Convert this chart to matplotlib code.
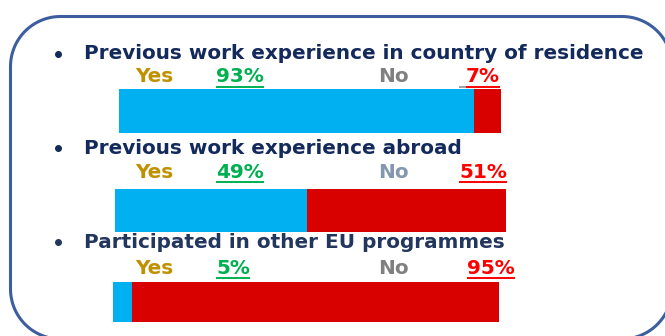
import matplotlib
matplotlib.use("Agg")
import matplotlib.pyplot as plt
import numpy as np

# survey answers, share of respondents (%)
questions = [
    "Previous work experience in country of residence",
    "Previous work experience abroad",
    "Participated in other EU programmes",
]
yes_pct = [93, 49, 5]
no_pct = [7, 51, 95]

BLUE, RED = "#00B0F0", "#D90000"
NAVY = ["#142A5C", "#142A5C", "#22365E"]
GOLD, GREEN, PCT_RED = "#BF9000", "#00B050", "#FF0000"
NO_GREY = ["#808080", "#8497B0", "#808080"]
BORDER = "#3C5E9E"

W, H = 665, 336
fig = plt.figure(figsize=(W / 100, H / 100), dpi=100)
ax = fig.add_axes([0, 0, 1, 1])
ax.set_xlim(0, W)
ax.set_ylim(H, 0)
ax.axis("off")


def rounded_frame(x0, y0, x1, y1, rad):
    # circular-arc corners, y grows downwards here
    pts = []
    for cx, cy, a0 in [(x1 - rad, y0 + rad, -90), (x1 - rad, y1 - rad, 0),
                       (x0 + rad, y1 - rad, 90), (x0 + rad, y0 + rad, 180)]:
        a = np.radians(np.linspace(a0, a0 + 90, 30))
        pts += list(zip(cx + rad * np.cos(a), cy + rad * np.sin(a)))
    pts.append(pts[0])
    xs, ys = zip(*pts)
    ax.plot(xs, ys, color=BORDER, lw=2.2)


rounded_frame(10.5, 16.5, 672, 339, 50)

plt.rcParams["font.family"] = "DejaVu Sans"
FS = 14.4
title_y = [53.5, 148, 242]
label_y = [77, 172, 268]
bar_y = [111, 210.5, 302]
bar_h = [44, 43, 40]
bar_x0 = [119, 115, 113]
bar_len = [382, 391, 386]
no_x = [466, 459, 467]

fig.canvas.draw()
r = fig.canvas.get_renderer()


def underline(t, color, pad_left=0, pad_color=None):
    bb = t.get_window_extent(r).transformed(ax.transData.inverted())
    x0, x1 = sorted([bb.x0, bb.x1])
    yb = max(bb.y0, bb.y1)
    ax.plot([x0, x1], [yb, yb], color=color, lw=1.4, solid_capstyle="butt")
    if pad_left:
        ax.plot([x0 - pad_left, x0], [yb, yb], color=pad_color, lw=1.4,
                solid_capstyle="butt")


for i, q in enumerate(questions):
    ax.plot(58, title_y[i], "o", ms=4, color=NAVY[i])
    ax.text(84, title_y[i], q, fontsize=FS, color=NAVY[i],
            fontweight="bold", va="center")
    ax.text(135, label_y[i], "Yes", fontsize=FS, color=GOLD,
            fontweight="bold", va="center")
    t = ax.text(216, label_y[i], f"{yes_pct[i]}%", fontsize=FS,
                color=GREEN, fontweight="bold", va="center")
    underline(t, GREEN)
    ax.text(378, label_y[i], "No", fontsize=FS, color=NO_GREY[i],
            fontweight="bold", va="center")
    t = ax.text(no_x[i], label_y[i], f"{no_pct[i]}%", fontsize=FS,
                color=PCT_RED, fontweight="bold", va="center")
    # single-digit share keeps an underlined leading space
    underline(t, PCT_RED, pad_left=7 if no_pct[i] < 10 else 0,
              pad_color="#A0A0A0")

    yes_w = bar_len[i] * yes_pct[i] / 100
    no_w = bar_len[i] * no_pct[i] / 100
    ax.barh(bar_y[i], yes_w, height=bar_h[i], left=bar_x0[i], color=BLUE)
    ax.barh(bar_y[i], no_w, height=bar_h[i], left=bar_x0[i] + yes_w,
            color=RED)

fig.savefig("out.png", dpi=100)
